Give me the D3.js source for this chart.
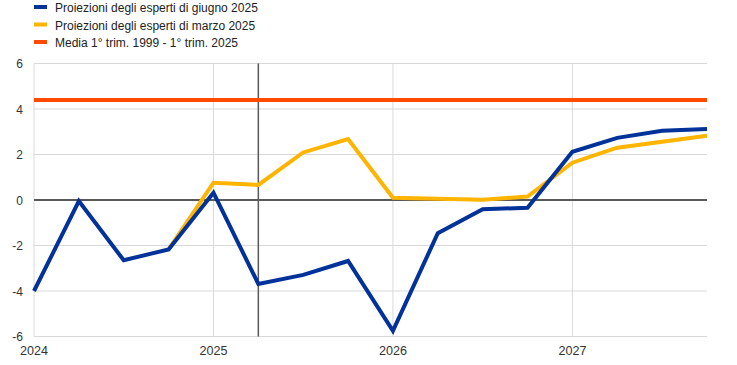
<!DOCTYPE html>
<html><head><meta charset="utf-8">
<script src="https://cdn.jsdelivr.net/npm/d3@7/dist/d3.min.js"></script>
<style>body{margin:0;background:#fff}svg{display:block;font-family:"Liberation Sans",Arial,sans-serif}</style>
</head><body><svg id="c" width="737" height="365"></svg>
<script>
const quarters = d3.range(16); // 2024Q1 .. 2027Q4
const juneValues = [-4.0,-0.05,-2.65,-2.17,0.32,-3.69,-3.29,-2.68,-5.75,-1.46,-0.41,-0.34,2.12,2.73,3.04,3.12];
const marchValues = [null,null,null,-2.17,0.76,0.66,2.09,2.68,0.1,0.06,0.01,0.15,1.64,2.3,2.56,2.82];
const averageValue = 4.4;
const yTicks = [-6,-4,-2,0,2,4,6];
const yearTicks = [0,4,8,12];
const yearLabels = ["2024","2025","2026","2027"];
const cutoffQuarter = 5;
const legendItems = [
  {label:"Proiezioni degli esperti di giugno 2025", color:"#003299"},
  {label:"Proiezioni degli esperti di marzo 2025", color:"#FFB400"},
  {label:"Media 1° trim. 1999 - 1° trim. 2025", color:"#FF4B00"}
];

const svg = d3.select("#c");
const x = d3.scaleLinear().domain([0,15]).range([34,707]);
const y = d3.scaleLinear().domain([-6,6]).range([336.5,63.5]);

// gridlines
svg.append("g").selectAll("line").data(yTicks).join("line")
  .attr("x1",34).attr("x2",707).attr("y1",d=>y(d)).attr("y2",d=>y(d))
  .attr("stroke","#d9d9d9").attr("stroke-width",1);
svg.append("g").selectAll("line").data(yearTicks).join("line")
  .attr("x1",d=>x(d)).attr("x2",d=>x(d)).attr("y1",y(6)).attr("y2",y(-6))
  .attr("stroke","#d9d9d9").attr("stroke-width",1);

// zero line
svg.append("line").attr("x1",34).attr("x2",707).attr("y1",y(0)).attr("y2",y(0))
  .attr("stroke","#595959").attr("stroke-width",2);
// cutoff line
svg.append("line").attr("x1",x(cutoffQuarter)).attr("x2",x(cutoffQuarter)).attr("y1",y(6)).attr("y2",y(-6))
  .attr("stroke","#595959").attr("stroke-width",1.5);

// y labels
svg.append("g").selectAll("text").data(yTicks).join("text")
  .attr("x",23).attr("y",d=>y(d)+4.5).attr("text-anchor","end")
  .attr("font-size",12).attr("fill","#333").text(d=>d);
// x labels
svg.append("g").selectAll("text").data(yearTicks).join("text")
  .attr("x",d=>x(d)).attr("y",355).attr("text-anchor","middle")
  .attr("font-size",13).attr("fill","#333").attr("textLength",28).attr("lengthAdjust","spacingAndGlyphs")
  .text((d,i)=>yearLabels[i]);

// average
svg.append("line").attr("x1",34).attr("x2",707).attr("y1",y(averageValue)).attr("y2",y(averageValue))
  .attr("stroke",legendItems[2].color).attr("stroke-width",4);

const line = d3.line().defined(d=>d[1]!=null).x(d=>x(d[0])).y(d=>y(d[1]));
svg.append("path").datum(quarters.map(i=>[i,marchValues[i]]))
  .attr("d",line).attr("fill","none").attr("stroke",legendItems[1].color).attr("stroke-width",4).attr("stroke-linejoin","miter");
svg.append("path").datum(quarters.map(i=>[i,juneValues[i]]))
  .attr("d",line).attr("fill","none").attr("stroke",legendItems[0].color).attr("stroke-width",4).attr("stroke-linejoin","miter");

// legend
const lg = svg.append("g").selectAll("g").data(legendItems).join("g")
  .attr("transform",(d,i)=>`translate(34,${5+i*17.5})`);
lg.append("rect").attr("width",13).attr("height",4).attr("fill",d=>d.color);
lg.append("text").attr("x",21).attr("y",7).attr("font-size",12).attr("fill","#222").text(d=>d.label);
</script></body></html>
